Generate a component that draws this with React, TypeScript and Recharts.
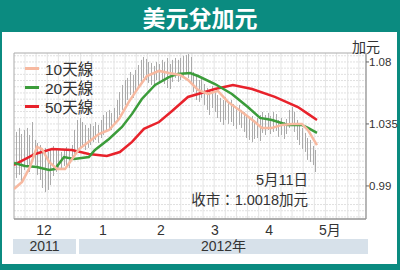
import React from 'react';
import { ComposedChart, Bar, Line, XAxis, YAxis, CartesianGrid, ReferenceArea } from 'recharts';

document.body.style.margin = '0';

// daily high / low, USD/CAD, late Nov 2011 .. 11 May 2012
const highs = [
  1.0292, 1.0321, 1.0277, 1.0306, 1.0321, 1.027, 1.0364, 1.0234, 1.0212, 1.0197,
  1.0161, 1.0176, 1.0147, 1.0161, 1.019, 1.0176, 1.0161, 1.0147, 1.0168, 1.0183,
  1.0161, 1.0197, 1.0306, 1.0379, 1.0393, 1.0364, 1.0343, 1.0321, 1.035, 1.0335,
  1.0364, 1.0343, 1.0379, 1.0415, 1.0437, 1.0452, 1.043, 1.0466, 1.0524, 1.0582,
  1.0633, 1.0669, 1.0684, 1.0727, 1.0706, 1.0742, 1.0778, 1.0815, 1.0836, 1.0822,
  1.08, 1.0793, 1.0771, 1.08, 1.0785, 1.0815, 1.08, 1.0829, 1.0785, 1.0815,
  1.0829, 1.0815, 1.0829, 1.0844, 1.0851, 1.0858, 1.0836, 1.0727, 1.0698, 1.0669,
  1.0684, 1.064, 1.0611, 1.0597, 1.0626, 1.0582, 1.056, 1.0539, 1.0524, 1.0546,
  1.051, 1.0524, 1.0495, 1.0466, 1.0488, 1.0452, 1.0437, 1.0415, 1.0393, 1.0408,
  1.0379, 1.0393, 1.0415, 1.0437, 1.0415, 1.043, 1.0408, 1.0437, 1.0422, 1.0379,
  1.0393, 1.0364, 1.0386, 1.0452, 1.0473, 1.0437, 1.0379, 1.0343, 1.0321, 1.0285,
  1.0248, 1.0234, 1.019, 1.0161,
];
const lows = [
  0.9958, 0.998, 0.9922, 1.0016, 1.0052, 1.0001, 1.0089, 1.0052, 0.998, 0.9943,
  0.9885, 0.9856, 0.9871, 0.9907, 0.9972, 1.0001, 1.003, 1.0016, 1.0045, 1.0052,
  1.003, 1.0089, 1.0125, 1.0161, 1.0176, 1.0197, 1.0161, 1.0176, 1.0197, 1.0219,
  1.0234, 1.0212, 1.0248, 1.027, 1.0292, 1.0321, 1.0306, 1.0343, 1.0379, 1.0415,
  1.0452, 1.0488, 1.0524, 1.056, 1.0539, 1.0582, 1.0611, 1.0655, 1.0684, 1.0669,
  1.0648, 1.0633, 1.064, 1.0669, 1.0655, 1.0669, 1.064, 1.0611, 1.0604, 1.0655,
  1.0684, 1.0655, 1.0669, 1.0698, 1.0713, 1.0684, 1.0655, 1.0582, 1.0524, 1.051,
  1.0539, 1.0488, 1.0452, 1.0415, 1.0466, 1.0437, 1.0393, 1.0364, 1.0343, 1.0379,
  1.035, 1.0364, 1.0335, 1.0314, 1.0343, 1.0321, 1.0292, 1.0248, 1.0234, 1.0219,
  1.0241, 1.0248, 1.0226, 1.0285, 1.027, 1.0306, 1.0277, 1.0292, 1.0299, 1.0256,
  1.027, 1.0241, 1.0277, 1.0321, 1.0335, 1.0292, 1.0234, 1.0197, 1.0168, 1.0147,
  1.0089, 1.0074, 1.0052, 1.0001,
];

// moving averages: [day index, value]
const ma10 = [
  [-0.75, 0.9878], [2.3, 0.9929], [5.3, 1.0038], [7.9, 1.0183], [9.8, 1.0168],
  [12.5, 1.0074], [15.5, 1.0023], [18.5, 1.0023], [20.4, 1.0074], [23.8, 1.0168],
  [27.5, 1.022], [31.3, 1.0277], [35.1, 1.0306], [38.9, 1.0386], [42.6, 1.051],
  [46.4, 1.0619], [49.4, 1.0698], [54, 1.0735], [57.7, 1.072], [61.9, 1.0705],
  [64.9, 1.067], [68.7, 1.0597], [72.5, 1.0568], [76.2, 1.059], [80, 1.051],
  [85.3, 1.0437], [90.2, 1.0364], [92.8, 1.0321], [96.6, 1.0321], [100.4, 1.0343],
  [104.2, 1.035], [107.9, 1.035], [110.2, 1.0306], [113.6, 1.0197],
];
const ma20 = [
  [-0.75, 1.0067], [3.4, 1.0045], [7.9, 1.0038], [12.5, 1.0016], [14.7, 1.0023],
  [18.1, 1.011], [21.9, 1.0096], [27.5, 1.011], [29.8, 1.0161], [35.1, 1.0241],
  [40, 1.0328], [43.8, 1.0423], [47.5, 1.0531], [52.5, 1.0633], [57.7, 1.069],
  [61.1, 1.0713], [65.7, 1.072], [68.7, 1.0698], [75.1, 1.064], [81.5, 1.0568],
  [87.5, 1.0473], [92.1, 1.0394], [96.6, 1.0379], [102.6, 1.0343], [107.9, 1.0343],
  [110.2, 1.0321], [113.6, 1.0285],
];
const ma50 = [
  [-0.75, 1.0052], [7.2, 1.0132], [13.6, 1.0168], [21.1, 1.0161], [27.5, 1.0132],
  [34.3, 1.0117], [39.2, 1.0146], [43.8, 1.022], [48.3, 1.0314], [54, 1.0364],
  [58.9, 1.0444], [64.9, 1.0546], [75.1, 1.0604], [81.9, 1.0633], [89.1, 1.0604],
  [97.7, 1.0546], [106.4, 1.0473], [110.2, 1.0423], [113.6, 1.0379],
];

const monthMid = [10.6, 32.8, 54.7, 75.1, 95.5, 118.5];
const monthLabels = ['12', '1', '2', '3', '4', '5月'];
const monthEdges = [23, 44.2, 64.2, 85.7, 105.7];
const priceTicks = [0.99, 1.035, 1.08];

const X_DOMAIN: [number, number] = [-0.75, 132.1];
const Y_DOMAIN: [number, number] = [0.966, 1.0865];

const TEAL = '#0b8b80';
const FONT = "'Liberation Sans', Arial, 'Noto Sans CJK TC', sans-serif";

const bars = highs.map((h, i) => ({ i, range: [lows[i], h] }));
const toPts = (arr: number[][]) => arr.map(([i, v]) => ({ i, v }));

const hGrid: number[] = [];
for (let v = 1.0845; v > 0.967; v -= 0.0045) hGrid.push(v);
const vGrid: number[] = [];
for (let x = 3.4; x < 132; x += 4.2) vGrid.push(x);

const Stick = (p: any) => {
  const cx = Math.round(p.x + p.width / 2) + 0.5;
  const top = Math.min(p.y, p.y + p.height);
  return <line x1={cx} x2={cx} y1={top} y2={top + Math.abs(p.height)} stroke="#ababab" strokeWidth={1} />;
};

const legend = [
  { name: '10天線', color: '#f7b9a0' },
  { name: '20天線', color: '#3b9c3a' },
  { name: '50天線', color: '#e8222b' },
];

export default function App() {
  return (
    <div style={{ position: 'relative', width: 400, height: 270, background: TEAL, fontFamily: FONT, overflow: 'hidden' }}>
      <div style={{ position: 'absolute', left: 0, top: 0, width: 400, height: 32, color: '#fff', fontWeight: 'bold', fontSize: 23, lineHeight: '34px', textAlign: 'center', fontFamily: "'Noto Sans CJK TC', sans-serif" }}>
        美元兌加元
      </div>
      <div style={{ position: 'absolute', left: 2, top: 32, width: 395, height: 232, background: '#fff' }} />

      <div style={{ position: 'absolute', left: 0, top: 0 }}>
        <ComposedChart width={400} height={270} data={bars} margin={{ top: 53, left: 14, right: 4, bottom: 31 }}>
          <CartesianGrid vertical={false} horizontalValues={hGrid} stroke="#e0e0e0" strokeDasharray="2 1" />
          <CartesianGrid horizontal={false} verticalValues={vGrid} stroke="#e4e4e4" />
          <ReferenceArea x1={X_DOMAIN[0]} x2={X_DOMAIN[1]} y1={Y_DOMAIN[0]} y2={Y_DOMAIN[1]} fill="none" stroke="#aaa" />
          <XAxis
            type="number"
            dataKey="i"
            domain={X_DOMAIN}
            allowDataOverflow
            ticks={monthMid}
            interval={0}
            tickFormatter={(_v: number, idx: number) => monthLabels[idx]}
            tickLine={false}
            tickSize={0}
            tickMargin={6}
            height={20}
            axisLine={{ stroke: '#888' }}
            tick={{ fontSize: 14, fill: '#333' }}
          />
          <XAxis
            xAxisId="edge"
            type="number"
            domain={X_DOMAIN}
            allowDataOverflow
            ticks={monthEdges}
            interval={0}
            mirror
            tick={false}
            tickSize={3}
            tickLine={{ stroke: '#222' }}
            axisLine={false}
            height={0}
          />
          <YAxis
            orientation="right"
            domain={Y_DOMAIN}
            allowDataOverflow
            ticks={priceTicks}
            interval={0}
            width={30}
            tickSize={3}
            tickMargin={0}
            tickLine={{ stroke: '#666' }}
            axisLine={{ stroke: '#999' }}
            tick={{ fontSize: 11.5, fill: '#333' }}
          />
          <Bar dataKey="range" barSize={1} shape={Stick} isAnimationActive={false} />
          <Line data={toPts(ma50)} dataKey="v" type="linear" stroke="#e8222b" strokeWidth={2.5} dot={false} isAnimationActive={false} />
          <Line data={toPts(ma20)} dataKey="v" type="linear" stroke="#3b9c3a" strokeWidth={2.5} dot={false} isAnimationActive={false} />
          <Line data={toPts(ma10)} dataKey="v" type="linear" stroke="#f7b9a0" strokeWidth={2.5} dot={false} isAnimationActive={false} />
        </ComposedChart>
      </div>

      {legend.map((l, k) => (
        <div key={l.name} style={{ position: 'absolute', left: 25, top: 59 + k * 19, height: 18, display: 'flex', alignItems: 'center' }}>
          <div style={{ width: 14, height: 3, background: l.color }} />
          <span style={{ marginLeft: 6, fontSize: 15.5, color: '#333' }}>{l.name}</span>
        </div>
      ))}

      <div style={{ position: 'absolute', left: 352, top: 36, fontSize: 14, color: '#333' }}>加元</div>

      <div style={{ position: 'absolute', right: 92, top: 170, fontSize: 14.5, color: '#333', textAlign: 'right', lineHeight: '20px' }}>
        <div>5月11日</div>
        <div>收市：1.0018加元</div>
      </div>

      <div style={{ position: 'absolute', left: 13, top: 239, width: 63, height: 15, background: '#d7e1ea', fontSize: 14, lineHeight: '15px', textAlign: 'center', color: '#333' }}>2011</div>
      <div style={{ position: 'absolute', left: 79, top: 239, width: 289, height: 15, background: '#d7e1ea', fontSize: 14, lineHeight: '15px', textAlign: 'center', color: '#333' }}>2012年</div>
    </div>
  );
}
